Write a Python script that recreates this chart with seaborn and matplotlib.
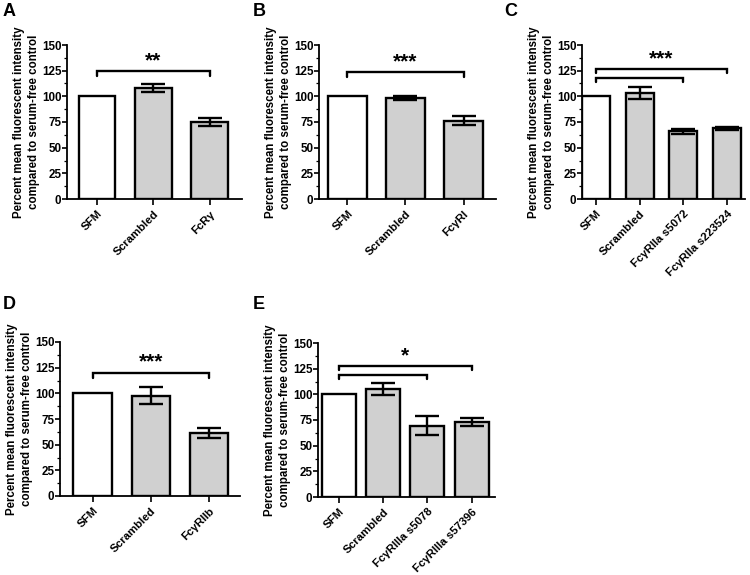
import numpy as np
import pandas as pd
import matplotlib
matplotlib.use("Agg")
import matplotlib.pyplot as plt
import seaborn as sns

# ---------------- data ----------------
cats_A = ["SFM", "Scrambled", "FcRγ"]
vals_A = [100, 108, 75]
errs_A = [0, 4.2, 3.9]

cats_B = ["SFM", "Scrambled", "FcγRI"]
vals_B = [100, 98.5, 76]
errs_B = [0, 2.1, 4.4]

cats_C = ["SFM", "Scrambled", "FcγRIIa s5072", "FcγRIIa s223524"]
vals_C = [100, 103, 66, 69]
errs_C = [0, 5.8, 2.5, 1.6]

cats_D = ["SFM", "Scrambled", "FcγRIIb"]
vals_D = [100, 97.5, 61.7]
errs_D = [0, 8.3, 5.0]

cats_E = ["SFM", "Scrambled", "FcγRIIIa s5078", "FcγRIIIa s57396"]
vals_E = [100, 105, 69.5, 73]
errs_E = [0, 6.0, 9.4, 4.1]

# significance annotations: (from index, to index) and star labels
sig_A = [(0, 2)]
stars_A = "**"
sig_B = [(0, 2)]
stars_B = "***"
sig_C = [(0, 3), (0, 2)]
stars_C = "***"
sig_D = [(0, 2)]
stars_D = "***"
sig_E = [(0, 3), (0, 2)]
stars_E = "*"

ylabel = "Percent mean fluorescent intensity\ncompared to serum-free control"

# ---------------- style ----------------
sns.set_theme(style="ticks")
plt.rcParams["font.family"] = ["Liberation Sans", "DejaVu Sans"]
plt.rcParams["font.weight"] = "bold"
plt.rcParams["axes.labelweight"] = "bold"
plt.rcParams["text.color"] = "black"
plt.rcParams["axes.labelcolor"] = "black"
plt.rcParams["xtick.color"] = "black"
plt.rcParams["ytick.color"] = "black"
plt.rcParams["xtick.labelcolor"] = "black"
plt.rcParams["ytick.labelcolor"] = "black"

W, H = 750, 575
fig = plt.figure(figsize=(7.5, 5.75), dpi=100)


def rect(l, r, top, bot):
    return [l / W, 1 - bot / H, (r - l) / W, (bot - top) / H]


panels = [
    dict(letter="A", cats=cats_A, vals=vals_A, errs=errs_A, sig=sig_A, stars=stars_A,
         rect=rect(67, 242, 45, 199), xlim=(-0.53, 2.57), width=0.65,
         brk=[124.7], drop=4.8, star_y=125.5, letter_xy=(3, 3)),
    dict(letter="B", cats=cats_B, vals=vals_B, errs=errs_B, sig=sig_B, stars=stars_B,
         rect=rect(319, 496, 45, 199), xlim=(-0.49, 2.56), width=0.67,
         brk=[123.5], drop=5.0, star_y=124.5, letter_xy=(253, 3)),
    dict(letter="C", cats=cats_C, vals=vals_C, errs=errs_C, sig=sig_C, stars=stars_C,
         rect=rect(582, 745, 45, 199), xlim=(-0.32, 3.41), width=0.64,
         brk=[126.7, 118.2], drop=4.2, star_y=127.5, letter_xy=(504, 3)),
    dict(letter="D", cats=cats_D, vals=vals_D, errs=errs_D, sig=sig_D, stars=stars_D,
         rect=rect(60, 240, 342, 496), xlim=(-0.56, 2.53), width=0.66,
         brk=[120.0], drop=4.8, star_y=121.0, letter_xy=(3, 296)),
    dict(letter="E", cats=cats_E, vals=vals_E, errs=errs_E, sig=sig_E, stars=stars_E,
         rect=rect(318, 495, 343, 497), xlim=(-0.475, 3.53), width=0.77,
         brk=[127.9, 119.2], drop=4.0, star_y=128.5, letter_xy=(253, 296)),
]

for p in panels:
    ax = fig.add_axes(p["rect"])
    cats, vals, errs = p["cats"], p["vals"], p["errs"]
    colors = ["white"] + ["#d0d0d0"] * (len(cats) - 1)
    df = pd.DataFrame({"cat": cats, "val": vals})
    sns.barplot(data=df, x="cat", y="val", hue="cat", palette=colors, legend=False,
                edgecolor="black", linewidth=1.7, width=p["width"], errorbar=None,
                saturation=1, ax=ax)
    xs = np.arange(len(cats))
    ax.errorbar(xs[1:], vals[1:], yerr=errs[1:], fmt="none", ecolor="black",
                elinewidth=1.7, capsize=8.5, capthick=1.7, zorder=5)

    ax.set_ylim(0, 150)
    ax.set_xlim(*p["xlim"])
    ax.set_yticks([0, 25, 50, 75, 100, 125, 150])
    ax.set_yticks(np.arange(0, 151, 12.5), minor=True)
    ax.set_xticks(xs)
    ax.set_xticklabels(cats, rotation=45, ha="right", rotation_mode="anchor",
                       fontsize=8.2, fontweight="bold", color="black")
    for t in ax.get_yticklabels():
        t.set_fontsize(8.4)
        t.set_fontweight("bold")
        t.set_color("black")
    ax.tick_params(axis="x", which="major", direction="out", length=4, width=1.2,
                   pad=3, color="black")
    ax.tick_params(axis="y", which="major", direction="out", length=3.5, width=1.2,
                   pad=0.6, color="black")
    ax.tick_params(axis="y", which="minor", direction="out", length=2, width=0.9,
                   color="black")
    ax.tick_params(axis="x", which="minor", bottom=False)
    sns.despine(ax=ax)
    for s in ["left", "bottom"]:
        ax.spines[s].set_linewidth(1.3)
        ax.spines[s].set_color("black")
    ax.set_xlabel("")
    ax.set_ylabel(ylabel, fontsize=8.3, fontweight="bold", labelpad=1.5,
                  linespacing=1.3, color="black")

    # significance brackets
    for (i0, i1), yb in zip(p["sig"], p["brk"]):
        ax.plot([i0, i0, i1, i1], [yb - p["drop"], yb, yb, yb - p["drop"]],
                color="black", lw=1.7, clip_on=False, solid_joinstyle="miter")
    xmid = (p["sig"][0][0] + p["sig"][0][1]) / 2
    ax.text(xmid, p["star_y"], p["stars"], ha="center", va="bottom",
            fontsize=15, fontweight="bold", color="black")

    lx, ly = p["letter_xy"]
    fig.text(lx / W, 1 - ly / H, p["letter"], ha="left", va="top",
             fontsize=13, fontweight="bold", color="black")

fig.savefig("out.png", dpi=100)
